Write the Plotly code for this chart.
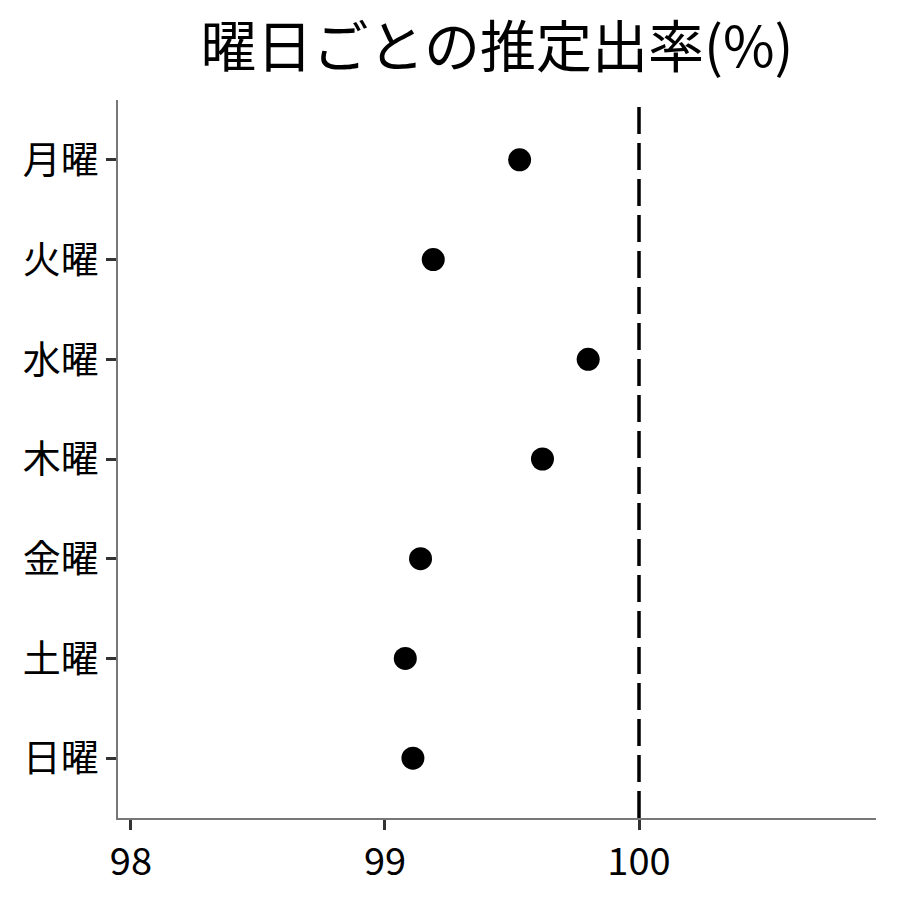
import plotly.graph_objects as go

# data
days = ["月曜", "火曜", "水曜", "木曜", "金曜", "土曜", "日曜"]
rates = [99.53, 99.19, 99.80, 99.62, 99.14, 99.08, 99.11]
ref_value = 100
x_ticks = [98, 99, 100]

FONT = "Noto Sans CJK JP, Noto Sans, sans-serif"

fig = go.Figure()
fig.add_trace(go.Scatter(x=rates, y=days, mode="markers",
                         marker=dict(color="black", size=23),
                         showlegend=False))

# reference line at 100%
fig.add_shape(type="line", x0=ref_value, x1=ref_value, y0=0, y1=1,
              xref="x", yref="paper",
              line=dict(color="black", width=3.5, dash="27px,9px"))

fig.update_layout(
    title=dict(text="曜日ごとの推定出率(%)", x=0.5, xref="paper", xanchor="center",
               y=0.956, yanchor="middle",
               font=dict(family=FONT, size=56, color="black")),
    width=900, height=900,
    margin=dict(l=110, r=32, t=92, b=90),
    plot_bgcolor="white", paper_bgcolor="white",
    font=dict(family=FONT, color="black"),
)
fig.update_xaxes(range=[97.949, 100.933], tickvals=x_ticks,
                 showgrid=False, zeroline=False,
                 showline=True, linecolor="#777777", linewidth=1.5,
                 ticks="outside", ticklen=10, tickwidth=3, tickcolor="#333333",
                 tickfont=dict(size=38, color="black"))
fig.update_yaxes(categoryorder="array", categoryarray=days[::-1],
                 range=[-0.6, 6.6],
                 showgrid=False, zeroline=False,
                 showline=True, linecolor="#777777", linewidth=1.5,
                 ticks="outside", ticklen=10, tickwidth=3, tickcolor="#333333",
                 tickfont=dict(size=38, color="black"))

fig.write_html("out.html")
